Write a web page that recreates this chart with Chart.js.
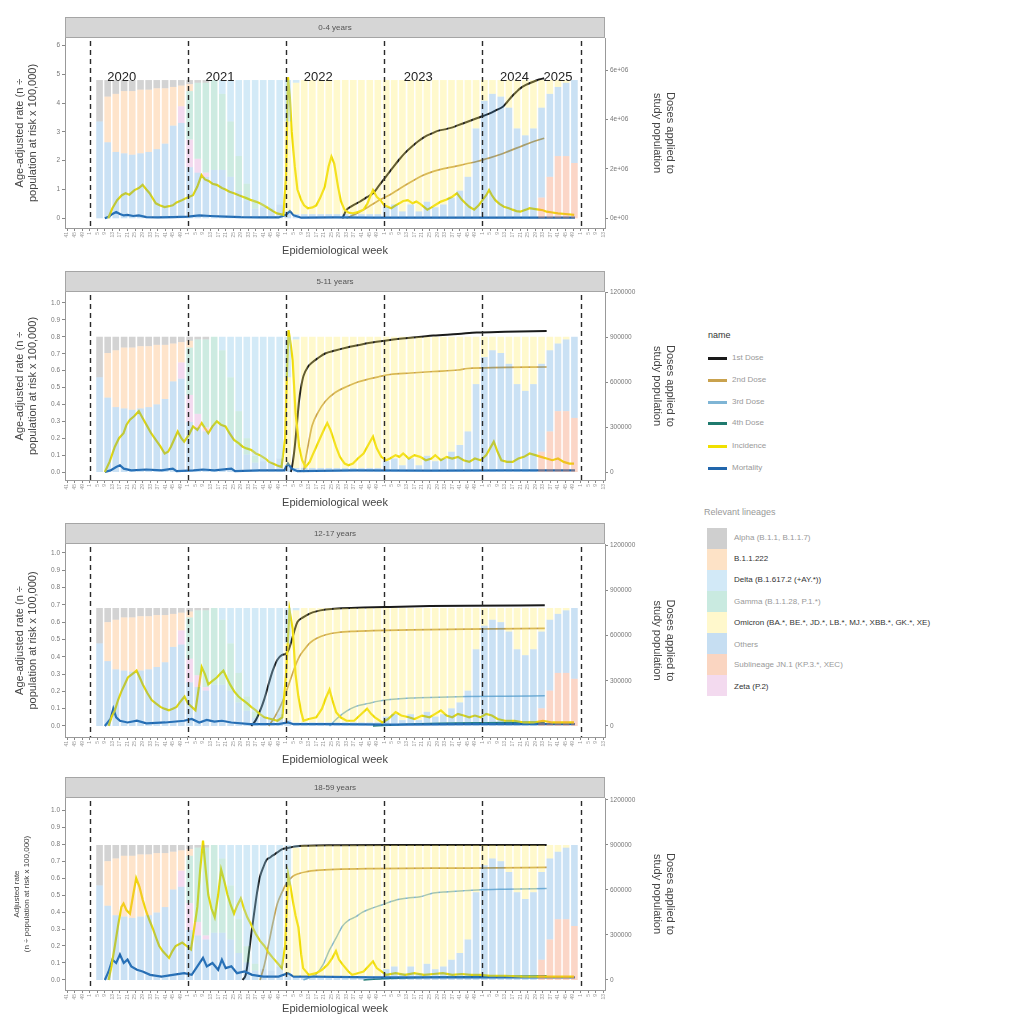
<!DOCTYPE html>
<html>
<head>
<meta charset="utf-8">
<script src="https://cdn.jsdelivr.net/npm/chart.js@4.4.1/dist/chart.umd.min.js"></script>
<style>
  html,body{margin:0;padding:0;background:#fff;overflow:hidden;}
  body{width:1009px;height:1018px;position:relative;font-family:"Liberation Sans",Arial,sans-serif;}
  canvas{position:absolute;left:0;}
  .lg{position:absolute;font-size:8px;color:#999;white-space:nowrap;line-height:10px;}
  .dk{color:#333;}
  .key{position:absolute;left:708px;width:19px;height:2.5px;}
  .sq{position:absolute;left:707px;width:20px;height:21px;}
</style>
</head>
<body>
<canvas id="c0" width="690" height="246" style="top:14px"></canvas>
<canvas id="c1" width="690" height="244" style="top:268px"></canvas>
<canvas id="c2" width="690" height="249" style="top:520px"></canvas>
<canvas id="c3" width="690" height="244" style="top:774px"></canvas>

<div class="lg dk" style="left:708px;top:330px;font-size:9px">name</div>
<div class="key" style="top:357px;background:#1a1a1a;height:3px"></div><div class="lg" style="left:732px;top:353px">1st Dose</div>
<div class="key" style="top:379px;background:#c9a24e"></div><div class="lg" style="left:732px;top:375px">2nd Dose</div>
<div class="key" style="top:401px;background:#7fb5d5"></div><div class="lg" style="left:732px;top:397px">3rd Dose</div>
<div class="key" style="top:422px;background:#1f7a6e"></div><div class="lg" style="left:732px;top:418px">4th Dose</div>
<div class="key" style="top:445px;background:#f0e000"></div><div class="lg" style="left:732px;top:441px">Incidence</div>
<div class="key" style="top:467px;background:#2166ac;height:3px"></div><div class="lg" style="left:732px;top:463px">Mortality</div>

<div class="lg" style="left:704px;top:507px;font-size:9px">Relevant lineages</div>
<div class="sq" style="top:528px;background:#cfcfcf"></div><div class="lg" style="left:734px;top:533px">Alpha (B.1.1, B.1.1.7)</div>
<div class="sq" style="top:549px;background:#fde2c6"></div><div class="lg dk" style="left:734px;top:554px">B.1.1.222</div>
<div class="sq" style="top:570px;background:#d2e9f7"></div><div class="lg dk" style="left:734px;top:575px">Delta (B.1.617.2 (+AY.*))</div>
<div class="sq" style="top:591px;background:#c9eae0"></div><div class="lg" style="left:734px;top:597px">Gamma (B.1.1.28, P.1.*)</div>
<div class="sq" style="top:612px;background:#fff8cc"></div><div class="lg dk" style="left:734px;top:618px">Omicron (BA.*, BE.*, JD.*, LB.*, MJ.*, XBB.*, GK.*, XE)</div>
<div class="sq" style="top:633px;background:#c6def2"></div><div class="lg" style="left:734px;top:640px">Others</div>
<div class="sq" style="top:654px;background:#fad5c1"></div><div class="lg" style="left:734px;top:660px">Sublineage JN.1 (KP.3.*, XEC)</div>
<div class="sq" style="top:675px;background:#f3daef"></div><div class="lg dk" style="left:734px;top:682px">Zeta (P.2)</div>

<script>
// ---------------- DATA ----------------
const panelTitles = ["0-4 years", "5-11 years", "12-17 years", "18-59 years"];
const yearLineWeeks = [0, 52, 104, 156, 208, 260];
const yearLabels = ["2020", "2021", "2022", "2023", "2024", "2025"];
const yearLabelWeeks = [17, 69, 121, 174, 225, 248];
const yearLabelLevel = 4.9;

// tick values
const rateTicks04 = [0, 1, 2, 3, 4, 5, 6];
const rateTicks = [0, 0.1, 0.2, 0.3, 0.4, 0.5, 0.6, 0.7, 0.8, 0.9, 1.0];
const doseTicks04 = [0, 2000000, 4000000, 6000000];
const doseTicks = [0, 300000, 600000, 900000, 1200000];

// monthly lineage bars (centre week of each month since week 1 of 2020)
const monthWeeks = [5.2, 9.5, 13.8, 18.2, 22.5, 26.9, 31.2, 35.5, 39.9, 44.2,
  48.5, 52.9, 57.2, 61.5, 65.9, 70.2, 74.6, 78.9, 83.2, 87.6,
  91.9, 96.2, 100.6, 104.9, 109.3, 113.6, 117.9, 122.3, 126.6, 130.9,
  135.3, 139.6, 143.9, 148.3, 152.6, 157.0, 161.3, 165.6, 170.0, 174.3,
  178.6, 183.0, 187.3, 191.6, 196.0, 200.3, 204.6, 209.0, 213.3, 217.7,
  222.0, 226.3, 230.7, 235.0, 239.3, 243.7, 248.0, 252.3, 256.7];

const linJN1 = [0,0,0,0,0,0,0,0,0,0, 0,0,0,0,0,0,0,0,0,0, 0,0,0,0,0,0,0,0,0,0,
  0,0,0,0,0,0,0,0,0,0, 0,0,0,0,0,0,0,0,0,0, 0,0,0,0,.15,.30,.45,.45,.40];
const linOthers = [.70,.55,.48,.47,.46,.47,.48,.50,.54,.67, .69,.37,.33,.30,.35,.35,.30,.20,.13,.07,
  .08,.07,.10,.05,.03,.03,.03,.03,.03,.03, .03,.03,.03,.03,.03,.08,.10,.05,.10,.05,
  .12,.08,.10,.15,.20,.30,.65,.85,.90,.88, .80,.65,.60,.65,.65,.60,.50,.53,.60];
const linZeta = [0,0,0,0,0,0,0,0,0,0, .12,.20,.10,.03,0,0,0,0,0,0, 0,0,0,0,0,0,0,0,0,0,
  0,0,0,0,0,0,0,0,0,0, 0,0,0,0,0,0,0,0,0,0, 0,0,0,0,0,0,0,0,0];
const linOmicron = [0,0,0,0,0,0,0,0,0,0, 0,0,0,0,0,0,0,0,0,0,
  0,0,0,.65,.95,.97,.97,.97,.97,.97, .97,.97,.97,.97,.97,.92,.90,.95,.90,.95,
  .88,.92,.90,.85,.80,.70,.35,.15,.10,.12, .20,.35,.40,.35,.20,.10,.05,.02,0];
const linGamma = [0,0,0,0,0,0,0,0,0,0, 0,.35,.55,.65,.65,.55,.40,.25,.12,.05, 0,0,0,0,0,0,0,0,0,0,
  0,0,0,0,0,0,0,0,0,0, 0,0,0,0,0,0,0,0,0,0, 0,0,0,0,0,0,0,0,0];
const linDelta = [0,0,0,0,0,0,0,0,0,0, 0,0,0,0,0,.10,.30,.55,.75,.88, .92,.93,.90,.30,.02,0,0,0,0,0,
  0,0,0,0,0,0,0,0,0,0, 0,0,0,0,0,0,0,0,0,0, 0,0,0,0,0,0,0,0,0];
const linB11222 = [0,.33,.42,.45,.46,.46,.45,.44,.40,.28, .15,.05,0,0,0,0,0,0,0,0, 0,0,0,0,0,0,0,0,0,0,
  0,0,0,0,0,0,0,0,0,0, 0,0,0,0,0,0,0,0,0,0, 0,0,0,0,0,0,0,0,0];
const linAlpha = [.30,.12,.10,.08,.08,.07,.07,.06,.06,.05, .04,.03,.02,.02,0,0,0,0,0,0, 0,0,0,0,0,0,0,0,0,0,
  0,0,0,0,0,0,0,0,0,0, 0,0,0,0,0,0,0,0,0,0, 0,0,0,0,0,0,0,0,0];
const lineageNames = ["Sublineage JN.1 (KP.3.*, XEC)", "Others", "Zeta (P.2)", "Omicron", "Gamma (B.1.1.28, P.1.*)", "Delta (B.1.617.2 (+AY.*))", "B.1.1.222", "Alpha (B.1.1, B.1.1.7)"];
const lineageValues = [linJN1, linOthers, linZeta, linOmicron, linGamma, linDelta, linB11222, linAlpha];

// ---- panel 1: 0-4 years ----
const inc04 = [[9.8,0],[12,0.35],[14.5,0.63],[17,0.8],[19,0.87],[21,0.82],[23.7,0.98],[26,1.05],[28,1.16],[30,1.0],[31.7,0.87],[35,0.52],[37,0.45],[39.7,0.39],[42,0.42],[44,0.45],[46,0.55],[48.8,0.63],[51,0.7],[54.7,0.8],[57,1.1],[59.2,1.5],[61,1.35],[63,1.3],[65,1.2],[67.3,1.16],[70,1.05],[71.9,1.0],[74,0.92],[76.4,0.87],[79,0.8],[81,0.75],[83,0.7],[85.6,0.63],[88,0.58],[90.1,0.52],[92,0.45],[94.7,0.35],[97,0.25],[99.2,0.17],[102.6,0.12],[104,1.5],[105,4.9],[106,4.2],[107,3.0],[108.6,1.8],[110,1.0],[112,0.63],[113.5,0.45],[115.5,0.35],[118,0.38],[120,0.45],[122,0.7],[124.5,1.1],[126.5,1.8],[128,2.14],[129.5,1.9],[131.5,1.1],[133,0.6],[134.9,0.3],[137,0.2],[139.4,0.17],[142,0.22],[145,0.3],[147,0.5],[148.5,0.75],[150,0.98],[152,0.75],[154,0.63],[156,0.45],[159.7,0.35],[162,0.45],[164,0.52],[166,0.6],[168.5,0.63],[171,0.52],[173,0.58],[175,0.5],[178.8,0.3],[181,0.38],[183,0.46],[186,0.58],[189,0.65],[192,0.75],[194.5,0.87],[197,0.65],[199,0.52],[201,0.4],[203.6,0.3],[206,0.45],[208,0.63],[210,0.8],[211.5,0.98],[213,0.8],[214.8,0.63],[217,0.5],[219.4,0.4],[222,0.35],[223.9,0.3],[226,0.25],[228,0.23],[231,0.3],[233,0.35],[236,0.32],[238,0.3],[240,0.28],[242,0.23],[245,0.2],[248,0.17],[252,0.15],[256.6,0.12]];
const mort04 = [[8,0],[10,0.05],[12,0.15],[14,0.22],[16,0.15],[18,0.1],[20,0.12],[23,0.08],[26,0.1],[30,0.04],[36,0.03],[44,0.04],[52,0.06],[58,0.1],[64,0.08],[72,0.06],[80,0.04],[90,0.03],[100,0.03],[104,0.12],[106,0.25],[108,0.1],[112,0.02],[130,0.03],[150,0.02],[180,0.02],[210,0.02],[240,0.02],[257,0.02]];
const dose1_04 = [[133.8,0],[136,340000],[139,500000],[143,670000],[146,820000],[150,1010000],[153,1300000],[156.8,1680000],[160,2000000],[163.7,2360000],[167,2650000],[170.5,2900000],[174,3120000],[177.4,3300000],[181,3430000],[184.3,3540000],[188,3600000],[191.2,3660000],[194.5,3750000],[198,3850000],[201.5,3950000],[205,4050000],[208.5,4150000],[211.9,4250000],[215,4370000],[218.8,4520000],[221,4700000],[223.4,4920000],[226,5120000],[228,5260000],[231,5400000],[234.9,5530000],[238,5620000],[240.7,5670000]];
const dose2_04 = [[136,0],[141,180000],[147.7,470000],[153,720000],[159,950000],[164.5,1220000],[170.5,1490000],[176,1720000],[182,1900000],[187.5,2010000],[193.5,2100000],[199,2200000],[205,2300000],[210.5,2420000],[216.5,2560000],[222,2720000],[228,2900000],[234,3080000],[240.7,3240000]];

// ---- panel 2: 5-11 years ----
const inc511 = [[8,0],[10.5,0.06],[13.3,0.15],[15.5,0.2],[17.9,0.23],[19.5,0.28],[21.3,0.31],[23.5,0.33],[26,0.36],[28,0.32],[30.5,0.27],[32.5,0.23],[35,0.19],[37.5,0.15],[39.7,0.11],[41.5,0.12],[43,0.15],[45,0.2],[46.6,0.24],[48.5,0.2],[50,0.18],[52.5,0.22],[54.7,0.27],[57,0.25],[59.3,0.29],[61,0.26],[62.8,0.23],[65,0.27],[67.3,0.3],[69.5,0.28],[71.9,0.27],[74,0.23],[76.4,0.19],[79,0.17],[81,0.15],[83,0.14],[85.6,0.13],[88,0.11],[90.1,0.1],[93,0.08],[95,0.06],[97,0.05],[99,0.04],[101.6,0.03],[103.5,0.2],[104.5,0.6],[105.3,0.84],[106.5,0.75],[107.5,0.66],[109,0.35],[110.9,0.15],[112.5,0.07],[114.3,0.03],[116.5,0.06],[118,0.1],[120,0.15],[122,0.2],[124,0.25],[125.8,0.29],[127.5,0.25],[129,0.2],[130.4,0.15],[132.5,0.09],[135,0.05],[137,0.04],[139.4,0.05],[142,0.08],[145,0.11],[147.5,0.16],[150,0.21],[152,0.14],[154.4,0.09],[157,0.07],[159,0.08],[162,0.1],[164,0.09],[166,0.11],[169,0.08],[172,0.1],[175,0.09],[178,0.07],[181,0.08],[183,0.1],[186,0.07],[189,0.09],[192,0.08],[195,0.09],[198,0.07],[201,0.06],[204,0.08],[207,0.07],[210,0.1],[212,0.14],[214,0.18],[216,0.12],[218,0.07],[221,0.06],[224,0.06],[227,0.08],[230,0.09],[233,0.11],[236,0.1],[239,0.09],[242,0.08],[245,0.07],[248,0.08],[251,0.06],[254,0.05],[256.5,0.05]];
const mort511 = [[8,0],[11,0.01],[14,0.03],[16,0.04],[18,0.02],[22,0.01],[30,0.015],[38,0.01],[44,0.02],[46,0.005],[55,0.01],[60,0.015],[66,0.01],[75,0.02],[77,0.005],[90,0.01],[103,0.01],[105,0.05],[107,0.02],[110,0.005],[140,0.01],[180,0.008],[220,0.01],[257,0.01]];
const dose1_511 = [[106.5,0],[107.5,60000],[108.6,170000],[109.8,330000],[110.9,480000],[112,570000],[113.2,640000],[115.5,700000],[117.8,730000],[121,760000],[124.7,790000],[130,810000],[136.2,830000],[142,845000],[147.7,860000],[153,870000],[159,880000],[170,895000],[182,910000],[195,920000],[205,930000],[220,935000],[242,940000]];
const dose2_511 = [[113.2,0],[114.5,100000],[116,200000],[117.8,310000],[121,400000],[124.7,470000],[130,530000],[136.2,570000],[142,600000],[147.7,620000],[153,635000],[159,650000],[170,660000],[182,670000],[195,680000],[200,690000],[242,700000]];

// ---- panel 3: 12-17 years ----
const inc1217 = [[10,0],[11.5,0.05],[13.3,0.09],[15,0.15],[16.8,0.2],[18.5,0.24],[20.2,0.28],[22.5,0.3],[24.8,0.32],[26.5,0.28],[28.1,0.24],[30.5,0.19],[32.8,0.15],[35,0.13],[37.4,0.11],[39.5,0.1],[41.9,0.09],[44,0.1],[46,0.11],[48,0.14],[50.2,0.17],[52,0.13],[54,0.11],[56,0.09],[57.5,0.2],[59.3,0.34],[61,0.3],[62.8,0.24],[65,0.26],[67.3,0.28],[69,0.3],[70.8,0.32],[72.5,0.28],[74.3,0.24],[76.5,0.2],[78.8,0.17],[81,0.15],[83.4,0.13],[85.5,0.11],[88,0.09],[90,0.07],[92.5,0.05],[96,0.04],[99.4,0.03],[102,0.05],[104,0.3],[105.8,0.67],[107.5,0.56],[109,0.3],[110.5,0.17],[112,0.08],[113.2,0.03],[116,0.04],[120,0.05],[123,0.1],[125,0.16],[127,0.21],[128.5,0.15],[130.5,0.08],[132.8,0.05],[136,0.03],[140,0.03],[143,0.06],[146.9,0.1],[149,0.07],[151,0.05],[155,0.02],[158,0.04],[162,0.08],[165,0.06],[169,0.05],[172,0.04],[176,0.06],[180,0.05],[183,0.07],[186,0.09],[189,0.06],[192,0.05],[195,0.07],[198,0.06],[201,0.05],[204,0.06],[207,0.05],[210,0.07],[213,0.06],[216,0.04],[220,0.03],[225,0.03],[230,0.02],[235,0.02],[240,0.03],[245,0.02],[250,0.02],[256.5,0.02]];
const mort1217 = [[8,0],[11,0.04],[12.5,0.1],[14,0.05],[16,0.03],[20,0.02],[25,0.03],[30,0.015],[40,0.02],[50,0.03],[54,0.04],[58,0.02],[62,0.035],[66,0.025],[70,0.03],[75,0.02],[85,0.01],[100,0.01],[105,0.02],[108,0.01],[130,0.01],[160,0.008],[200,0.01],[257,0.01]];
const dose1_1217 = [[85.6,0],[88,40000],[90.2,100000],[92.5,180000],[94.8,280000],[97,370000],[99.4,440000],[101.7,470000],[104,480000],[105.5,510000],[107,570000],[108.6,640000],[110,690000],[113,720000],[116.5,745000],[120,760000],[125,772000],[131.4,780000],[145,786000],[159,790000],[180,795000],[200,798000],[241,800000]];
const dose2_1217 = [[94.8,0],[98,60000],[101.7,150000],[105,260000],[108.6,390000],[111,460000],[113.2,500000],[116.5,550000],[120,580000],[125,605000],[131.4,620000],[140,628000],[150,632000],[170,638000],[200,642000],[241,648000]];
const dose3_1217 = [[127,0],[131,50000],[136.2,100000],[141,130000],[147.7,150000],[153,165000],[159,175000],[170,185000],[185,190000],[200,195000],[220,198000],[241,200000]];
const dose4_1217 = [[150,0],[165,10000],[185,18000],[210,22000],[241,25000]];

// ---- panel 4: 18-59 years ----
const inc1859 = [[10,0],[11.5,0.08],[13.3,0.2],[15,0.32],[16.8,0.43],[17.9,0.45],[19.5,0.41],[21.3,0.39],[23,0.5],[24.6,0.6],[26.3,0.55],[28.1,0.47],[30,0.4],[31.7,0.35],[33.5,0.3],[35.1,0.25],[36.8,0.2],[38.6,0.17],[40.3,0.15],[42,0.13],[43.8,0.17],[45.5,0.2],[47.3,0.21],[49,0.22],[51.3,0.2],[53.6,0.18],[55.3,0.3],[57,0.43],[58.5,0.65],[60,0.82],[61.4,0.65],[62.8,0.5],[64.5,0.42],[66.2,0.37],[68,0.5],[69.6,0.65],[71.3,0.58],[73,0.5],[74.7,0.44],[76.4,0.39],[78.2,0.44],[80,0.48],[81.7,0.42],[83.4,0.37],[85.7,0.32],[88,0.27],[90.2,0.23],[92.5,0.2],[94.8,0.16],[97,0.13],[99.4,0.1],[101.7,0.07],[103.5,0.2],[105.1,0.62],[106.3,0.55],[107.5,0.47],[109,0.38],[110.5,0.31],[112,0.15],[113,0.07],[116,0.03],[120,0.04],[123,0.06],[126,0.09],[128.5,0.13],[130.4,0.17],[132,0.12],[134,0.09],[137,0.05],[139,0.03],[142,0.04],[145,0.05],[147.5,0.08],[150,0.11],[152,0.07],[154.5,0.05],[157,0.03],[162,0.04],[167,0.03],[172,0.04],[177,0.03],[182,0.035],[187,0.04],[192,0.03],[197,0.035],[202,0.03],[207,0.03],[212,0.025],[220,0.025],[230,0.02],[240,0.02],[250,0.02],[256.5,0.02]];
const mort1859 = [[8,0],[10,0.05],[12,0.12],[14,0.1],[16,0.15],[18,0.1],[20,0.12],[22,0.08],[25,0.06],[28,0.05],[32,0.03],[38,0.02],[44,0.03],[50,0.04],[54,0.03],[57,0.08],[60,0.13],[62,0.08],[65,0.1],[68,0.06],[70,0.12],[72,0.07],[75,0.08],[78,0.04],[82,0.05],[86,0.03],[92,0.02],[100,0.02],[105,0.04],[108,0.02],[120,0.02],[150,0.015],[200,0.015],[257,0.015]];
const dose1_1859 = [[81,0],[82.5,30000],[83.4,89000],[84.5,200000],[85.6,310000],[86.8,420000],[88,530000],[89.1,620000],[90.2,690000],[91.9,750000],[93.6,800000],[95.3,815000],[97,830000],[99.4,850000],[101.7,870000],[105,880000],[108.6,890000],[115,895000],[130,898000],[160,900000],[200,900000],[242,900000]];
const dose2_1859 = [[90.2,0],[92.5,100000],[94.8,240000],[97,380000],[99.4,510000],[101.7,580000],[104,640000],[107.5,690000],[110.9,710000],[115,722000],[120,730000],[130,737000],[150,742000],[200,746000],[242,750000]];
const dose3_1859 = [[113.2,0],[117,20000],[120,40000],[123.5,100000],[127,200000],[130.5,280000],[133.9,360000],[137.4,400000],[140.8,420000],[144.3,450000],[147.7,470000],[154.6,500000],[161.5,530000],[168,545000],[175,555000],[182,580000],[190,588000],[198,595000],[205,600000],[220,605000],[242,610000]];
const dose4_1859 = [[145,0],[155,8000],[170,15000],[190,20000],[215,25000],[242,28000]];

// ---------------- STYLE / LAYOUT ----------------
Chart.defaults.font.family = '"Liberation Sans", Arial, sans-serif';
const lineageColors = ['rgba(244,140,100,0.36)','rgba(66,146,214,0.28)','rgba(220,150,210,0.35)','rgba(255,235,100,0.32)','rgba(102,194,165,0.33)','rgba(140,200,235,0.38)','rgba(253,174,97,0.33)','rgba(150,150,150,0.42)'];

const panelsLayout = [
  {id:'c0', title:panelTitles[0], inc:inc04, mort:mort04, d1:dose1_04, d2:dose2_04, d3:null, d4:null,
   yL:{min:-0.337,max:6.26,ticks:rateTicks04,dec:0}, yR:{min:-393000,max:7300000,ticks:doseTicks04,sci:true}, yB:{min:-0.070,max:1.304}, xH:32, years:true,
   ltitle:["Age-adjusted rate (n \u00f7","population at risk x 100,000)"], lsize:11},
  {id:'c1', title:panelTitles[1], inc:inc511, mort:mort511, d1:dose1_511, d2:dose2_511, d3:null, d4:null,
   yL:{min:-0.047,max:1.065,ticks:rateTicks,dec:1}, yR:{min:-53000,max:1200000,ticks:doseTicks}, yB:{min:-0.059,max:1.331}, xH:32,
   ltitle:["Age-adjusted rate (n \u00f7","population at risk x 100,000)"], lsize:11},
  {id:'c2', title:panelTitles[2], inc:inc1217, mort:mort1217, d1:dose1_1217, d2:dose2_1217, d3:dose3_1217, d4:dose4_1217,
   yL:{min:-0.064,max:1.052,ticks:rateTicks,dec:1}, yR:{min:-73000,max:1207000,ticks:doseTicks}, yB:{min:-0.093,max:1.542}, xH:32,
   ltitle:["Age-adjusted rate (n \u00f7","population at risk x 100,000)"], lsize:11},
  {id:'c3', title:panelTitles[3], inc:inc1859, mort:mort1859, d1:dose1_1859, d2:dose2_1859, d3:dose3_1859, d4:dose4_1859,
   yL:{min:-0.059,max:1.071,ticks:rateTicks,dec:1}, yR:{min:-67000,max:1213000,ticks:doseTicks}, yB:{min:-0.074,max:1.348}, xH:28,
   ltitle:["Adjusted rate","(n \u00f7 population at risk x 100,000)"], lsize:8}
];

// week ticks every 4 weeks along the axis
const weekTickValues = [];
for (let w = -12; w <= 272; w += 4) weekTickValues.push(w);

const toXY = arr => arr.map(p => ({x:p[0], y:p[1]}));

const panelDecor = {
  id:'panelDecor',
  beforeDraw(chart, args, opts){
    const {ctx, chartArea:a} = chart;
    ctx.save();
    ctx.fillStyle = '#d6d6d6';
    ctx.fillRect(a.left, a.top-21, a.right-a.left, 21);
    ctx.strokeStyle = '#a5a5a5'; ctx.lineWidth = 1;
    ctx.strokeRect(a.left+0.5, a.top-20.5, a.right-a.left-1, 20);
    ctx.fillStyle = '#555'; ctx.font = '8px "Liberation Sans", Arial';
    ctx.textAlign = 'center'; ctx.textBaseline = 'middle';
    ctx.fillText(opts.title, (a.left+a.right)/2, a.top-10.5);
    ctx.restore();
  },
  afterDatasetsDraw(chart, args, opts){
    const {ctx, chartArea:a, scales} = chart;
    ctx.save();
    ctx.setLineDash([5,4]); ctx.strokeStyle = '#2a2a2a'; ctx.lineWidth = 1.4;
    yearLineWeeks.forEach(w => {
      const x = Math.round(scales.x.getPixelForValue(w)) + 0.5;
      ctx.beginPath(); ctx.moveTo(x, a.top+3); ctx.lineTo(x, a.bottom); ctx.stroke();
    });
    ctx.setLineDash([]);
    if (opts.years) {
      ctx.fillStyle = '#222'; ctx.font = '13px "Liberation Sans", Arial';
      ctx.textAlign = 'center'; ctx.textBaseline = 'middle';
      const y = scales.yL.getPixelForValue(yearLabelLevel);
      yearLabels.forEach((t,i) => ctx.fillText(t, scales.x.getPixelForValue(yearLabelWeeks[i]), y));
    }
    ctx.restore();
  }
};

function lineDs(data, color, width, axis, smooth){
  return {type:'line', data:toXY(data), yAxisID:axis, borderColor:color, borderWidth:width,
    pointRadius:0, fill:false, order:1, tension:0,
    cubicInterpolationMode: smooth ? 'monotone' : 'default'};
}
const setTicks = vals => s => { s.ticks = vals.map(v => ({value:v})); };

panelsLayout.forEach(P => {
  const datasets = [];
  lineageValues.forEach((vals,i) => {
    datasets.push({type:'bar', label:lineageNames[i], yAxisID:'yB', order:0,
      data: monthWeeks.map((w,k) => ({x:w, y:vals[k]})),
      backgroundColor: lineageColors[i], borderWidth:0, barPercentage:0.88, categoryPercentage:1.0});
  });
  datasets.push(lineDs(P.inc, '#efdc00', 2.2, 'yL', false));
  datasets.push(lineDs(P.mort, '#2166ac', 2.2, 'yL', false));
  if (P.d4) datasets.push(lineDs(P.d4, '#1f7a6e', 1.5, 'yR', true));
  if (P.d3) datasets.push(lineDs(P.d3, '#7fb5d5', 1.5, 'yR', true));
  datasets.push(lineDs(P.d2, '#c9a24e', 1.7, 'yR', true));
  datasets.push(lineDs(P.d1, '#1a1a1a', 2.0, 'yR', true));

  const tickFont = {size:6.5};
  new Chart(document.getElementById(P.id), {
    type:'bar',
    data:{datasets},
    plugins:[panelDecor],
    options:{
      responsive:false, animation:false, devicePixelRatio:1,
      layout:{padding:{top:24, left:0, right:0, bottom:0}},
      plugins:{legend:{display:false}, tooltip:{enabled:false}, panelDecor:{title:P.title, years:!!P.years}},
      scales:{
        x:{type:'linear', min:-13.1, max:272.9, stacked:true, offset:false,
           grid:{display:true, drawOnChartArea:false, drawTicks:true, tickLength:3, color:'#888', offset:false},
           border:{display:true, color:'#999'},
           afterBuildTicks: setTicks(weekTickValues),
           ticks:{autoSkip:false, maxRotation:90, minRotation:90, font:{size:5}, color:'#999', padding:1,
             callback:v => String(((Math.round(v) % 52) + 52) % 52 + 1)},
           title:{display:true, text:'Epidemiological week', font:{size:11}, color:'#444', padding:{top:0,bottom:2}},
           afterFit:s => { s.height = P.xH; }},
        yL:{type:'linear', position:'left', min:P.yL.min, max:P.yL.max, stacked:false,
           grid:{drawOnChartArea:false, drawTicks:true, tickLength:3, color:'#888'},
           border:{display:true, color:'#999'},
           afterBuildTicks: setTicks(P.yL.ticks),
           ticks:{autoSkip:false, font:tickFont, color:'#777', padding:2,
             callback:v => Number(v).toFixed(P.yL.dec)},
           title:{display:true, text:P.ltitle, font:{size:P.lsize}, color:'#444', padding:{top:P.lsize===11?13:12, bottom:0}},
           afterFit:s => { s.width = 65; }},
        yR:{type:'linear', position:'right', min:P.yR.min, max:P.yR.max, stacked:false,
           grid:{drawOnChartArea:false, drawTicks:true, tickLength:3, color:'#888'},
           border:{display:true, color:'#999'},
           afterBuildTicks: setTicks(P.yR.ticks),
           ticks:{autoSkip:false, font:tickFont, color:'#777', padding:2,
             callback:v => P.yR.sci ? Number(v).toExponential(0).replace(/e([+-])(\d)$/, 'e$10$2') : String(Math.round(v))},
           title:{display:true, text:['Doses applied to','study population'], font:{size:11}, color:'#444', padding:{top:13, bottom:0}},
           afterFit:s => { s.width = 85; }},
        yB:{type:'linear', display:false, stacked:true, min:P.yB.min, max:P.yB.max}
      }
    }
  });
});
</script>
</body>
</html>
